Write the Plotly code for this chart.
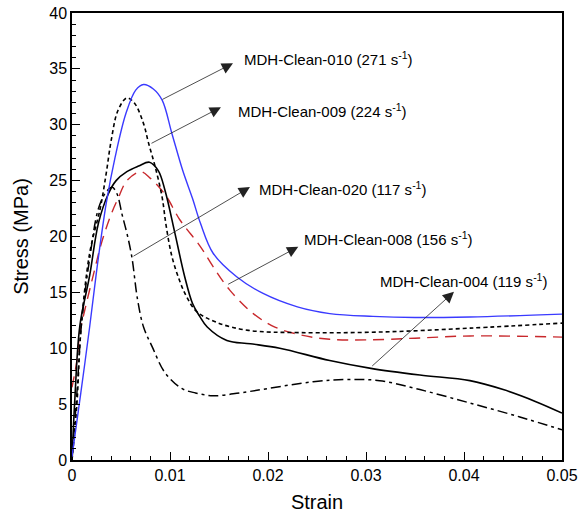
import plotly.graph_objects as go

# MDH-Clean-010 (blue solid)
x010 = [0, 0.0009, 0.0018, 0.0026, 0.0035, 0.0044, 0.0055, 0.0065, 0.0073, 0.0083, 0.0092, 0.0102,
        0.0113, 0.0123, 0.0131, 0.0144, 0.0168, 0.0195, 0.0230, 0.0263, 0.0307, 0.0350, 0.0406, 0.0500]
y010 = [0.3, 6.0, 11.9, 17.5, 23.0, 27.1, 31.0, 33.1, 33.6, 33.2, 32.2, 29.2,
        25.9, 23.4, 21.2, 18.5, 16.4, 14.9, 13.7, 13.1, 12.85, 12.75, 12.8, 13.05]

# MDH-Clean-009 (black dotted)
x009 = [0, 0.0005, 0.0009, 0.0018, 0.0029, 0.0035, 0.0040, 0.0047, 0.0056, 0.0064, 0.0073, 0.0078,
        0.0085, 0.0092, 0.0096, 0.0102, 0.0110, 0.0117, 0.0127, 0.0148, 0.0180, 0.0233, 0.0314, 0.0406, 0.0500]
y009 = [0, 5.0, 11.5, 18.5, 22.6, 25.7, 28.6, 31.3, 32.4, 31.9, 30.1, 28.4,
        26.2, 23.5, 21.0, 18.2, 16.0, 14.6, 13.3, 12.3, 11.6, 11.4, 11.45, 11.8, 12.25]

# MDH-Clean-020 (black dash-dot)
x020 = [0, 0.0005, 0.0010, 0.0018, 0.0027, 0.0035, 0.0041, 0.0046, 0.0051, 0.0056, 0.0061, 0.0067,
        0.0073, 0.0082, 0.0095, 0.0112, 0.0126, 0.0144, 0.0171, 0.0200, 0.0246, 0.0280, 0.0314,
        0.0355, 0.0406, 0.0457, 0.0500]
y020 = [0, 6.0, 12.5, 18.0, 22.5, 24.0, 24.4, 23.8, 22.0, 20.3, 18.2, 14.3,
        11.9, 10.1, 7.8, 6.4, 6.0, 5.75, 6.0, 6.4, 7.0, 7.2, 7.1,
        6.3, 5.1, 3.85, 2.7]

# MDH-Clean-008 (red dashed)
x008 = [0, 0.0005, 0.0008, 0.0013, 0.0023, 0.0030, 0.0040, 0.0047, 0.0056, 0.0070, 0.0080, 0.0090,
        0.0097, 0.0110, 0.0131, 0.0144, 0.0161, 0.0185, 0.0207, 0.0233, 0.0263, 0.0301, 0.0350, 0.0406, 0.0500]
y008 = [6.5, 8.9, 11.4, 13.4, 17.0, 19.4, 22.0, 23.4, 25.0, 25.8, 25.2, 24.3,
        23.5, 21.5, 19.1, 17.3, 15.2, 13.1, 11.9, 11.2, 10.8, 10.75, 10.9, 11.1, 11.0]

# MDH-Clean-004 (black solid)
x004 = [0, 0.0003, 0.0008, 0.0018, 0.0027, 0.0037, 0.0045, 0.0056, 0.0068, 0.0079, 0.0088, 0.0095,
        0.0105, 0.0115, 0.0123, 0.0130, 0.0138, 0.0158, 0.0182, 0.0212, 0.0263, 0.0305, 0.0355,
        0.0406, 0.0440, 0.0474, 0.0500]
y004 = [0, 5.6, 12.0, 16.5, 21.2, 23.8, 25.0, 25.8, 26.3, 26.65, 25.9, 24.1,
        20.3, 16.4, 14.0, 12.9, 11.9, 10.7, 10.4, 10.0, 8.9, 8.2, 7.6,
        7.1, 6.3, 5.2, 4.2]

labels = ["MDH-Clean-010 (271 s<sup>-1</sup>)", "MDH-Clean-009 (224 s<sup>-1</sup>)",
          "MDH-Clean-020 (117 s<sup>-1</sup>)", "MDH-Clean-008 (156 s<sup>-1</sup>)",
          "MDH-Clean-004 (119 s<sup>-1</sup>)"]
label_x = [0.01735, 0.01673, 0.01888, 0.02347, 0.03122]
label_y = [35.95, 31.3, 24.3, 19.86, 16.1]
arrow_tail_x = [0.00908, 0.00796, 0.00612, 0.01578, 0.03048]
arrow_tail_y = [32.2, 28.27, 18.16, 15.65, 8.29]
arrow_head_x = [0.01643, 0.0152, 0.01816, 0.02309, 0.03898]
arrow_head_y = [35.5, 31.57, 24.42, 19.08, 15.05]

FONT = "Liberation Sans, Arial, sans-serif"

fig = go.Figure()
series = [
    (x008, y008, dict(color="#c8282c", width=1.4, dash="11px,7px")),
    (x020, y020, dict(color="black", width=1.5, dash="10px,4px,3px,4px")),
    (x004, y004, dict(color="black", width=1.6)),
    (x009, y009, dict(color="black", width=1.6, dash="4px,3px")),
    (x010, y010, dict(color="#3a3aff", width=1.4)),
]
for xs, ys, ln in series:
    fig.add_trace(go.Scatter(x=xs, y=ys, mode="lines",
                             line=dict(shape="spline", smoothing=1.0, **ln),
                             showlegend=False, hoverinfo="skip"))

for i in range(len(labels)):
    fig.add_annotation(x=arrow_head_x[i], y=arrow_head_y[i], ax=arrow_tail_x[i], ay=arrow_tail_y[i],
                       xref="x", yref="y", axref="x", ayref="y", text="", showarrow=True,
                       arrowhead=2, arrowsize=2.8, arrowwidth=0.8, arrowcolor="#222")
    fig.add_annotation(x=label_x[i], y=label_y[i], xref="x", yref="y", text=labels[i],
                       showarrow=False, xanchor="left", yanchor="middle",
                       font=dict(size=15, color="black", family=FONT))

axis_common = dict(showgrid=False, zeroline=False, showline=True, linecolor="black", linewidth=1.5,
                   mirror=True, ticks="inside", ticklen=8, tickwidth=1.2, tickcolor="black",
                   automargin=False,
                   tickfont=dict(size=16, color="black", family=FONT))
fig.update_xaxes(range=[0, 0.05], dtick=0.01, tick0=0,
                 minor=dict(dtick=0.002, ticks="inside", ticklen=4, tickcolor="black", tickwidth=1),
                 title=dict(text="Strain", standoff=12, font=dict(size=20, color="black", family=FONT)),
                 **axis_common)
fig.update_yaxes(range=[0, 40], dtick=5, tick0=0,
                 minor=dict(dtick=1, ticks="inside", ticklen=4, tickcolor="black", tickwidth=1),
                 title=dict(text="Stress (MPa)", standoff=15, font=dict(size=20, color="black", family=FONT)),
                 **axis_common)
fig.update_layout(width=579, height=513, margin=dict(l=72, r=17, t=13, b=53),
                  paper_bgcolor="white", plot_bgcolor="white")
fig.write_html("out.html")
